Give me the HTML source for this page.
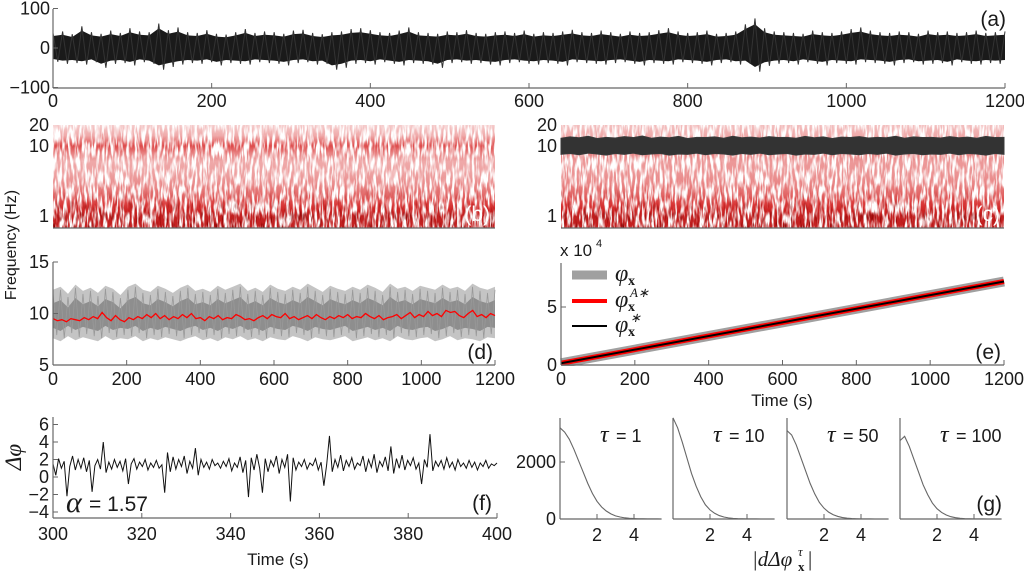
<!DOCTYPE html>
<html><head><meta charset="utf-8"><style>
html,body{margin:0;padding:0;background:#fff;}
svg{display:block;font-family:"Liberation Sans",sans-serif;}
</style></head><body>
<svg id="fig" width="1024" height="572" viewBox="0 0 1024 572" xmlns="http://www.w3.org/2000/svg">
<defs>
<filter id="whiteTex" x="0" y="0" width="1" height="1">
<feTurbulence type="fractalNoise" baseFrequency="0.4 0.07" numOctaves="2" seed="2"/>
<feColorMatrix type="matrix" values="0 0 0 0 1  0 0 0 0 1  0 0 0 0 1  4 0 0 0 -1.6"/>
</filter>
<filter id="darkTex" x="0" y="0" width="1" height="1">
<feTurbulence type="fractalNoise" baseFrequency="0.45 0.09" numOctaves="2" seed="7"/>
<feColorMatrix type="matrix" values="0 0 0 0 0.25  0 0 0 0 0  0 0 0 0 0  0 4 0 0 -2.2"/>
</filter>
<linearGradient id="bottomFade" x1="0" y1="0" x2="0" y2="1">
<stop offset="0" stop-color="#000"/><stop offset="0.6" stop-color="#000"/><stop offset="1" stop-color="#fff"/>
</linearGradient>
<mask id="bottomMask" maskContentUnits="objectBoundingBox"><rect x="0" y="0" width="1" height="1" fill="url(#bottomFade)"/></mask>
</defs>
</svg>
<script>
// ---------- DATA ----------
const aMax=[38,42,35,55,40,36,44,38,50,42,40,62,45,52,40,38,45,36,34,40,48,38,42,40,36,44,46,38,35,40,42,48,50,45,40,38,44,52,40,38,36,42,40,45,38,36,40,42,38,44,36,40,38,42,46,40,38,44,40,36,42,38,40,45,50,42,38,40,44,36,38,42,60,75,50,42,40,38,36,44,40,38,42,48,52,44,40,38,42,40,36,44,40,42,38,40,44,38,40,42];
const aMin=[-35,-40,-38,-42,-36,-50,-40,-38,-44,-36,-40,-55,-48,-42,-38,-40,-36,-44,-38,-40,-42,-36,-38,-40,-44,-38,-36,-42,-40,-55,-50,-40,-38,-42,-36,-40,-44,-38,-40,-42,-50,-38,-36,-40,-38,-42,-44,-38,-36,-40,-42,-38,-40,-44,-36,-38,-40,-42,-38,-36,-40,-44,-38,-40,-42,-36,-38,-40,-44,-38,-36,-42,-40,-60,-45,-40,-38,-42,-36,-40,-44,-38,-40,-42,-36,-38,-40,-44,-38,-36,-42,-40,-38,-44,-36,-40,-42,-38,-40,-38];
const aXTicks=[0,200,400,600,800,1000,1200];
const aYTicks=[100,0,-100];
const specFreqs=[20,14,10,8,6,4,3,2,1.5,1.2,1,0.8,0.68];
const specB=[0.12,0.2,0.42,0.3,0.2,0.22,0.26,0.35,0.45,0.55,0.6,0.6,0.58];
const specC=[0.15,0.2,0.35,0.3,0.24,0.25,0.28,0.36,0.46,0.55,0.6,0.6,0.58];
const specTicks=[20,10,1];
const cBandTop=[12.9,13.5,13.1,13.8,12.8,13.3,13.0,13.6,13.2,13.9,12.9,13.4,13.1,13.7,12.8,13.3,13.2,13.5,12.9,13.8,13.1,13.4,13.0,13.6,13.2,13.3,12.9,13.7,13.1,13.5,12.8,13.4,13.2,13.6,13.0,13.3,13.1,13.8,12.9,13.5,13.2,13.3,13.0,13.6,13.1,13.4,12.9,13.7,13.2,13.3];
const cBandBot=[7.6,7.8,7.5,7.9,7.7,7.4,7.8,7.6,7.9,7.5,7.7,7.8,7.4,7.7,7.6,7.9,7.5,7.8,7.7,7.4,7.8,7.6,7.9,7.5,7.7,7.8,7.4,7.7,7.6,7.9,7.5,7.8,7.7,7.5,7.8,7.6,7.9,7.4,7.7,7.8,7.5,7.7,7.6,7.9,7.5,7.8,7.7,7.4,7.8,7.6];
const dGrayMax=[12.3,12.6,11.9,12.8,12.2,12.5,12.0,12.7,12.4,11.8,12.6,12.9,12.3,12.1,12.7,12.4,12.0,12.5,12.8,12.2,12.4,12.1,12.7,12.3,12.6,12.9,12.2,12.5,12.1,12.8,12.4,12.2,12.6,12.3,12.9,12.5,12.1,12.7,12.4,12.2,12.6,12.3,12.8,12.5,12.1,12.9,12.4,12.6,12.2,12.7,12.5,12.3,12.8,12.4,12.6,12.2,12.9,12.5,12.3,12.6];
const dGrayMin=[7.6,7.3,7.8,7.4,7.7,7.5,7.3,7.8,7.4,7.6,7.5,7.8,7.3,7.6,7.4,7.7,7.5,7.3,7.6,7.8,7.4,7.6,7.3,7.7,7.5,7.8,7.4,7.6,7.3,7.7,7.5,7.4,7.8,7.6,7.3,7.7,7.5,7.4,7.6,7.8,7.3,7.5,7.7,7.4,7.6,7.3,7.8,7.5,7.4,7.6,7.7,7.3,7.5,7.8,7.4,7.6,7.5,7.3,7.7,7.6];
const dRed=[9.5,9.3,9.4,9.2,9.5,9.4,9.3,9.6,9.4,9.7,9.5,10.1,9.6,9.3,9.8,9.4,9.2,9.6,9.4,9.7,9.5,9.9,9.6,10.0,9.5,9.8,9.4,9.7,9.5,9.9,9.6,10.0,9.5,9.6,9.3,9.7,9.5,9.8,9.4,9.6,9.5,9.9,9.7,9.4,9.5,9.3,9.6,9.8,9.5,9.9,9.7,9.6,10.0,9.5,9.7,9.4,9.6,9.8,9.5,9.9,9.6,9.4,9.7,9.5,9.8,9.6,9.9,9.5,9.7,9.6,10.0,9.7,9.5,9.8,9.4,9.6,9.7,9.9,9.5,9.8,10.1,9.6,9.9,9.7,10.2,9.8,10.0,9.7,10.3,10.1,10.2,9.8,9.6,10.0,10.3,9.7,9.9,9.6,10.0,9.8];
const dYTicks=[15,10,5];
const eTime=[0,1200];
const ePhase=[0.15,7.2];
const eYTicks=[0,5];
const fVals=[1.5,0.2,2.1,1.0,1.8,-2.2,1.2,2.4,0.8,2.0,1.0,2.2,0.6,1.9,-1.7,1.3,2.0,0.9,4.0,0.5,1.7,0.9,2.0,1.1,1.8,0.7,2.1,-0.8,1.5,2.1,0.9,1.7,1.2,2.0,0.8,1.6,1.1,1.9,1.0,1.4,-1.8,2.8,0.6,2.3,0.9,2.0,1.2,2.4,0.4,1.8,1.0,3.3,0.2,2.0,1.1,1.7,0.9,2.0,1.3,1.6,1.0,1.8,1.2,2.1,0.7,1.6,1.1,2.3,0.5,1.9,-2.3,2.2,0.8,2.6,1.0,-1.8,2.1,0.6,1.9,1.2,2.4,0.4,2.0,1.1,2.6,-2.8,2.2,0.8,1.7,1.2,2.0,0.9,1.6,1.3,2.1,0.8,1.7,-1.0,1.4,4.7,0.6,2.0,1.1,2.5,0.7,1.9,1.2,2.2,0.9,1.6,1.3,2.4,0.6,2.0,1.1,2.6,0.5,1.8,1.2,2.3,0.7,3.5,0.4,2.1,1.0,2.5,0.8,1.9,1.3,2.2,0.9,1.6,-0.8,2.0,1.1,4.9,0.7,1.8,1.2,1.9,0.9,2.2,1.1,1.7,0.8,2.0,1.2,1.6,1.0,1.9,1.1,1.7,0.8,1.6,1.2,1.9,1.0,1.5,1.3,1.6];
const fXTicks=[300,320,340,360,380,400];
const fYTicks=[6,4,2,0,-2,-4];
const gTaus=['1','10','50','100'];
const gH1=[3200,3050,2800,2450,2050,1650,1250,900,620,420,280,180,110,70,40,25,15,8,5,3,2,1,0];
const gH2=[3550,3200,2700,2150,1600,1150,780,500,320,200,120,70,40,20,10,5,3,2,1,0,0,0,0];
const gH3=[3100,2950,2600,2150,1700,1250,880,580,380,240,150,90,50,30,15,8,4,2,1,0,0,0,0];
const gH4=[2750,2900,2550,2100,1650,1200,850,560,360,230,140,80,45,25,12,6,3,2,1,0,0,0,0];
const gXTicks=[2,4];
const gYTicks=[0,2000];

// ---------- HELPERS ----------
const NS='http://www.w3.org/2000/svg';
const svg=document.getElementById('fig');
function mk(tag,attrs,parent){const e=document.createElementNS(NS,tag);for(const k in attrs)e.setAttribute(k,attrs[k]);(parent||svg).appendChild(e);return e;}
function txt(s,x,y,size,anchor,extra){const e=mk('text',Object.assign({x:x,y:y,'font-size':size,'text-anchor':anchor||'start',fill:'#1a1a1a'},extra||{}));e.textContent=s;return e;}
function axesLines(x0,x1,yT,yB,name){
  const l=mk('line',{x1:x0,y1:yT,x2:x0,y2:yB,stroke:'#666','stroke-width':1.2});
  
  
  const b=mk('line',{x1:x0,y1:yB,x2:x1,y2:yB,stroke:'#666','stroke-width':1.2});
  
  
}
function xTick(x,yB,label,ly,name){
  const t=mk('line',{x1:x,y1:yB,x2:x,y2:yB-5,stroke:'#666','stroke-width':1});
  
  
  const l=txt(label,x,ly,18,'middle');
  
  
}
function yTick(x0,y,label,lx,name){
  const t=mk('line',{x1:x0,y1:y,x2:x0+5,y2:y,stroke:'#666','stroke-width':1});
  
  
  const l=txt(label,lx,y+6,18,'end');
  
  
}
function fmt(v){return v<0?'\u2212'+(-v):String(v);}
function cmap(t){t=Math.max(0,Math.min(1,t));let r,g,b;
  if(t<0.5){const u=t/0.5;r=255+(215-255)*u;g=255+(40-255)*u;b=255+(40-255)*u;}
  else{const u=(t-0.5)/0.5;r=215+(110-215)*u;g=40*(1-u);b=40*(1-u);}
  return 'rgb('+Math.round(r)+','+Math.round(g)+','+Math.round(b)+')';}

// ---------- PANEL A ----------
const ax=v=>53+v*(952/1200), ay=v=>48-v*0.395;
{
  const n=aMax.length, step=1200/(n-1);
  let pts=[];for(let i=0;i<n;i++)pts.push(ax(i*step)+','+ay(aMax[i]*0.8));
  for(let i=n-1;i>=0;i--)pts.push(ax(i*step)+','+ay(aMin[i]*0.8));
  const p=mk('polygon',{points:pts.join(' '),fill:'#1a1a1a'});
  
  
  let z=[];for(let i=0;i<n;i++){z.push(ax(i*step)+','+ay(aMax[i]));if(i<n-1)z.push(ax((i+0.5)*step)+','+ay(aMin[i]));}
  const zl=mk('polyline',{points:z.join(' '),fill:'none',stroke:'#333','stroke-width':1});
  
  
  axesLines(53,1005,9,88,'panel-a');
  aXTicks.forEach(v=>xTick(ax(v),88,String(v),107,'panel-a'));
  aYTicks.forEach(v=>yTick(53,ay(v),fmt(v),50,'panel-a'));
  const L=txt('(a)',1006,26,21,'end');
}

// ---------- SPECTROGRAMS ----------
const sy=f=>146-70*Math.log10(f/10);
function spectro(x0,x1,prof,name){
  const yT=125,yB=228;
  const g=mk('linearGradient',{id:'grad-'+name,x1:0,y1:0,x2:0,y2:1},svg.querySelector('defs'));
  specFreqs.forEach((f,i)=>{mk('stop',{offset:Math.max(0,Math.min(1,(sy(f)-yT)/(yB-yT))),'stop-color':cmap(prof[i])},g);});
  const base=mk('rect',{x:x0,y:yT,width:x1-x0,height:yB-yT,fill:'url(#grad-'+name+')'});
  
  
  const w=mk('rect',{x:x0,y:yT,width:x1-x0,height:yB-yT,fill:'#fff',filter:'url(#whiteTex)'});
  
  
  const d=mk('rect',{x:x0,y:yT,width:x1-x0,height:yB-yT,fill:'#000',filter:'url(#darkTex)',mask:'url(#bottomMask)'});
  
  
  const bl=mk('line',{x1:x0,y1:yB,x2:x1,y2:yB,stroke:'#666','stroke-width':1.2});
  
  
  specTicks.forEach(v=>{const l=txt(String(v),x0-4,sy(v)+6,18,'end');});
}
spectro(53,495,specB,'panel-b');
spectro(561,1004,specC,'panel-c');
{
  const n=cBandTop.length, cx=i=>561+i*(443/(n-1));
  let pts=[];for(let i=0;i<n;i++)pts.push(cx(i)+','+sy(cBandTop[i]));
  for(let i=n-1;i>=0;i--)pts.push(cx(i)+','+sy(cBandBot[i]));
  const p=mk('polygon',{points:pts.join(' '),fill:'#333',stroke:'#3a3a3a','stroke-width':1});
  
  
}
{const L=txt('(b)',490,221,21,'end',{fill:'#fff'});}
{const L=txt('(c)',1000,221,21,'end',{fill:'#fff'});}
{const L=txt('Frequency (Hz)',0,0,16,'middle',{transform:'translate(16,245) rotate(-90)'});}

// ---------- PANEL D ----------
const dx=v=>53+v*(442/1200), dy=v=>365-(v-5)*10.3;
{
  const n=dGrayMax.length, step=1200/(n-1);
  let pts=[];for(let i=0;i<n;i++)pts.push(dx(i*step)+','+dy(dGrayMax[i]));
  for(let i=n-1;i>=0;i--)pts.push(dx(i*step)+','+dy(dGrayMin[i]));
  const p=mk('polygon',{points:pts.join(' '),fill:'#c4c4c4'});
  
  
  let pi=[];for(let i=0;i<n;i++)pi.push(dx(i*step)+','+dy(dGrayMax[i]-1.3));
  for(let i=n-1;i>=0;i--)pi.push(dx(i*step)+','+dy(dGrayMin[i]+1.0));
  const pin=mk('polygon',{points:pi.join(' '),fill:'#8e8e8e'});
  
  
  let z=[];for(let i=0;i<n;i++){z.push(dx(i*step)+','+dy(dGrayMax[i]-0.3));if(i<n-1)z.push(dx((i+0.5)*step)+','+dy(dGrayMin[i]+0.3));}
  const zl=mk('polyline',{points:z.join(' '),fill:'none',stroke:'#999','stroke-width':0.8});
  
  
  const m=dRed.length, rs=1200/(m-1);
  const r=mk('polyline',{points:dRed.map((v,i)=>dx(i*rs)+','+dy(v)).join(' '),fill:'none',stroke:'#f00','stroke-width':1.3});
  
  
  axesLines(53,495,262,365,'panel-d');
  aXTicks.forEach(v=>xTick(dx(v),365,String(v),385,'panel-d'));
  dYTicks.forEach(v=>yTick(53,dy(v),String(v),49,'panel-d'));
  const L=txt('(d)',493,359,21,'end');
}

// ---------- PANEL E ----------
const ex=v=>561+v*(443/1200), ey=v=>365-v*11.6;
{
  const pts=eTime.map((t,i)=>ex(t)+','+ey(ePhase[i])).join(' ');
  const g=mk('polyline',{points:pts,fill:'none',stroke:'#a0a0a0','stroke-width':10});
  
  const r=mk('polyline',{points:pts,fill:'none',stroke:'#f00','stroke-width':5});
  
  const k=mk('polyline',{points:pts,fill:'none',stroke:'#000','stroke-width':2});
  
  const cv=mk('rect',{x:540,y:366,width:480,height:8,fill:'#fff'});
  axesLines(561,1004,263,365,'panel-e');
  aXTicks.forEach(v=>xTick(ex(v),365,String(v),385,'panel-e'));
  eYTicks.forEach(v=>yTick(561,ey(v),String(v),557,'panel-e'));
  const s=txt('x 10',560,256,17,'start');
  const s2=txt('4',596,247,11,'start');
  const legendItems=[['#a0a0a0',9,275,'','legend-entry-phi'],['#f00',4,301,'A\u2217','legend-entry-phi-a'],['#000',2,326,'\u2217','legend-entry-phi-star']];
  legendItems.forEach(it=>{
    const ln=mk('line',{x1:572,y1:it[2],x2:607,y2:it[2],stroke:it[0],'stroke-width':it[1]});
    
    const t=txt('\u03C6',615,it[2]+6,24,'start',{'font-family':'Liberation Serif, serif','font-style':'italic'});
    
    const sb=txt('x',628,it[2]+10,14,'start',{'font-weight':'bold','font-family':'Liberation Serif, serif'});
    
    if(it[3]){const sp=txt(it[3],630,it[2]-4,13,'start',{'font-family':'Liberation Serif, serif','font-style':'italic'});
      }
  });
  const L=txt('(e)',1001,359,21,'end');
  const T=txt('Time (s)',782,406,17,'middle');
}

// ---------- PANEL F ----------
const fx=v=>53+(v-300)*4.44, fy=v=>477-v*8.75;
{
  const n=fVals.length, step=100/(n-1);
  const p=mk('polyline',{points:fVals.map((v,i)=>fx(300+i*step)+','+fy(v)).join(' '),fill:'none',stroke:'#111','stroke-width':1});
  
  axesLines(53,497,417,518,'panel-f');
  fXTicks.forEach(v=>xTick(fx(v),518,String(v),540,'panel-f'));
  fYTicks.forEach(v=>yTick(53,fy(v),fmt(v),49,'panel-f'));
  const al=txt('\u03B1',66,512,30,'start',{'font-family':'Liberation Serif, serif','font-style':'italic'});
  
  const av=txt('= 1.57',89,511,21,'start');
  const L=txt('(f)',492,510,21,'end');
  const T=txt('Time (s)',278,565,17,'middle');
  const Y=txt('\u0394\u03C6',0,0,23,'middle',{'font-family':'Liberation Serif, serif','font-style':'italic',transform:'translate(21,457) rotate(-90)'});
  
}

// ---------- PANEL G ----------
const gX0=[560,673,787,900];
const gHists=[gH1,gH2,gH3,gH4];
const gy=v=>519-Math.min(v,3550)*(57/2000);
gHists.forEach((h,k)=>{
  const x0=gX0[k], gx=v=>x0+v*18.5;
  const p=mk('polyline',{points:h.map((v,i)=>gx(i*0.25)+','+gy(v)).join(' '),fill:'none',stroke:'#666','stroke-width':1.1});
  
  axesLines(x0,x0+101,418,519,'panel-g-'+(k+1));
  gXTicks.forEach(v=>xTick(gx(v),519,String(v),541,'panel-g-'+(k+1)));
  const t=txt('\u03C4',x0+40,442,24,'start',{'font-family':'Liberation Serif, serif','font-style':'italic'});
  
  const tv=txt('= '+gTaus[k],x0+56,442,18,'start');
  
});
gYTicks.forEach(v=>yTick(560,gy(v),String(v),556,'panel-g'));
{
  const L=txt('(g)',1002,511,21,'end');
  const T=txt('|d\u0394\u03C6',752,566,21,'start',{'font-family':'Liberation Serif, serif','font-style':'italic'});
  
  const T2=txt('x',798,571,13,'start',{'font-family':'Liberation Serif, serif','font-weight':'bold'});
  
  const T3=txt('\u03C4',798,556,13,'start',{'font-family':'Liberation Serif, serif','font-style':'italic'});
  
  const T4=txt('|',808,566,21,'start',{'font-family':'Liberation Serif, serif'});
  
}
</script>
</body></html>
